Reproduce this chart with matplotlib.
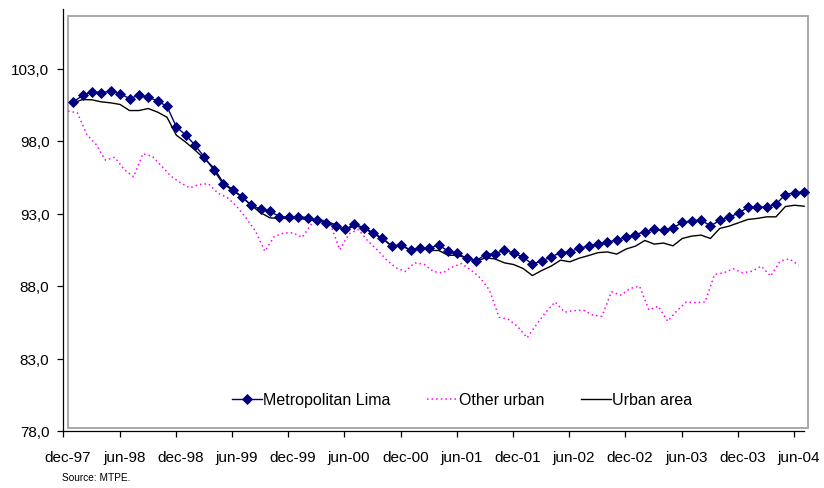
import matplotlib
matplotlib.use("Agg")
import matplotlib.pyplot as plt
from matplotlib.patches import Rectangle
from matplotlib.transforms import offset_copy

plt.rcParams['font.family'] = ['Liberation Sans', 'DejaVu Sans']

months = ["dec", "jan", "feb", "mar", "apr", "may", "jun", "jul", "aug", "sep", "oct", "nov"]
n = 79
categories = [f"{months[i % 12]}-{(97 + (i + 11) // 12) % 100:02d}" for i in range(n)]

lima = [100.70, 101.14, 101.39, 101.34, 101.43, 101.26, 100.93, 101.14, 101.02, 100.77,
        100.38, 98.98, 98.40, 97.71, 96.88, 95.99, 95.03, 94.61, 94.13, 93.56,
        93.30, 93.14, 92.79, 92.75, 92.77, 92.72, 92.52, 92.36, 92.12, 91.90,
        92.26, 92.03, 91.67, 91.29, 90.77, 90.84, 90.45, 90.63, 90.59, 90.84,
        90.40, 90.26, 89.90, 89.74, 90.17, 90.24, 90.45, 90.29, 89.97, 89.53,
        89.71, 90.01, 90.29, 90.36, 90.61, 90.75, 90.90, 91.05, 91.15, 91.35,
        91.55, 91.74, 91.90, 91.83, 92.01, 92.38, 92.50, 92.54, 92.15, 92.52,
        92.75, 93.02, 93.43, 93.43, 93.46, 93.64, 94.31, 94.43, 94.50]

other = [100.06, 99.95, 98.45, 97.76, 96.68, 96.88, 96.03, 95.53, 97.12, 96.95,
         96.26, 95.57, 95.12, 94.77, 95.00, 95.05, 94.40, 94.10, 93.50, 92.70,
         91.80, 90.40, 91.40, 91.65, 91.67, 91.35, 92.30, 92.60, 92.30, 90.50,
         91.60, 91.90, 91.10, 90.50, 89.80, 89.26, 89.00, 89.60, 89.50, 89.00,
         88.90, 89.30, 89.55, 89.10, 88.56, 87.70, 85.85, 85.70, 85.20, 84.43,
         85.34, 86.20, 86.90, 86.20, 86.30, 86.33, 86.00, 85.92, 87.60, 87.37,
         87.83, 87.99, 86.35, 86.61, 85.57, 86.30, 86.90, 86.85, 86.90, 88.79,
         88.91, 89.19, 88.91, 89.02, 89.37, 88.68, 89.71, 89.87, 89.43]

urban = [100.63, 100.86, 100.84, 100.70, 100.63, 100.52, 100.10, 100.10, 100.24, 99.99,
         99.64, 98.40, 97.92, 97.37, 96.77, 96.15, 95.12, 94.66, 94.15, 93.57,
         93.05, 92.70, 92.66, 92.66, 92.66, 92.59, 92.52, 92.43, 92.24, 91.82,
         92.17, 91.99, 91.62, 91.26, 90.74, 90.74, 90.52, 90.63, 90.45, 90.45,
         90.12, 90.12, 89.94, 89.71, 89.94, 89.87, 89.60, 89.48, 89.21, 88.72,
         89.07, 89.37, 89.78, 89.67, 89.92, 90.10, 90.30, 90.35, 90.20, 90.55,
         90.75, 91.14, 90.89, 90.96, 90.77, 91.28, 91.44, 91.51, 91.28, 91.97,
         92.13, 92.36, 92.59, 92.66, 92.77, 92.77, 93.48, 93.57, 93.50]

yticks = [78.0, 83.0, 88.0, 93.0, 98.0, 103.0]
ytick_labels = ["78,0", "83,0", "88,0", "93,0", "98,0", "103,0"]
label_idx = list(range(0, n, 6))
source_text = "Source: MTPE."

W, H = 824, 489
fig = plt.figure(figsize=(W / 100, H / 100), dpi=100)
fig.patch.set_facecolor('white')

# axes (black axis lines)
L, R, T, B = 63.3, 803.5, 10, 432
ax = fig.add_axes([L / W, (H - B) / H, (R - L) / W, (B - T) / H])
ax.set_facecolor('none')

# plot-area border (gray box, slightly offset)
fig.add_artist(Rectangle((68 / W, (H - 429) / H), 740 / W, 412 / H,
                         transform=fig.transFigure, fill=False,
                         edgecolor='#a8a8a8', linewidth=1.4, zorder=0))

x = list(range(n))
shift = offset_copy(ax.transData, fig=fig, x=5.3, y=0, units='dots')

ax.plot(x, other, color='#ff00ff', linestyle=(0, (1, 2)), linewidth=1.1,
        label='Other urban', zorder=2, clip_on=False)
ax.plot(x, urban, color='black', linewidth=1.0, label='Urban area',
        transform=shift, zorder=3, clip_on=False)
ax.plot(x, lima, color='#000080', linewidth=1.0, marker='D', markersize=4.8,
        markeredgewidth=0.6, markerfacecolor='#000080', markeredgecolor='#000080',
        label='Metropolitan Lima', transform=shift, zorder=4, clip_on=False)

ax.set_xlim(-0.5, n - 0.5)
ax.set_ylim(78, 78 + (B - T) / 14.5)

for s in ['top', 'right']:
    ax.spines[s].set_visible(False)
for s in ['left', 'bottom']:
    ax.spines[s].set_color('black')
    ax.spines[s].set_linewidth(0.9)

ax.set_yticks(yticks)
ax.set_yticklabels(ytick_labels, fontsize=11)
ax.tick_params(axis='y', direction='out', length=4, width=0.9, pad=6)

ax.set_xticks(label_idx)
ax.set_xticklabels([categories[i] for i in label_idx], fontsize=11)
ax.tick_params(axis='x', which='major', length=0, pad=14)
ax.set_xticks([i - 0.5 for i in label_idx], minor=True)
ax.tick_params(axis='x', which='minor', direction='out', length=4, width=0.9)

handles, labels = ax.get_legend_handles_labels()
order = [2, 0, 1]
leg = ax.legend([handles[i] for i in order], [labels[i] for i in order],
                loc='center', bbox_to_anchor=(462 / W, (H - 401) / H),
                bbox_transform=fig.transFigure, ncol=3, frameon=False,
                fontsize=11.5, handlelength=1.9, handletextpad=0.05,
                columnspacing=2.3, borderaxespad=0)

fig.text(62 / W, (H - 478) / H, source_text, fontsize=7.3, ha='left', va='center')

fig.savefig('out.png', dpi=100)
